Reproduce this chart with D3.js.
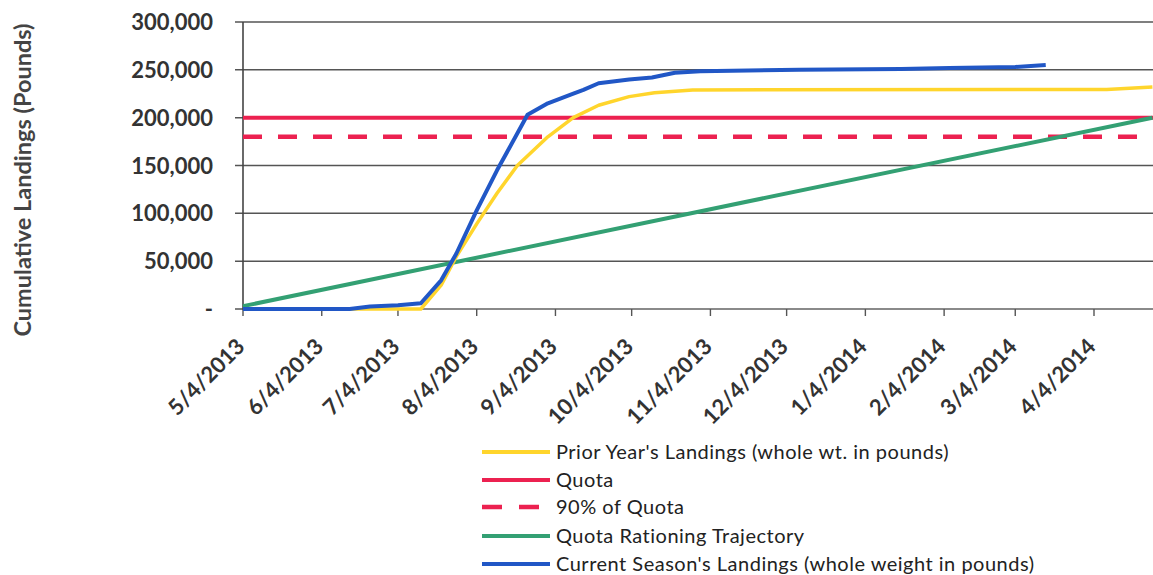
<!DOCTYPE html>
<html>
<head>
<meta charset="utf-8">
<script src="https://cdn.jsdelivr.net/npm/d3@7"></script>
<style>
  html, body { margin: 0; padding: 0; background: #ffffff; }
  svg { display: block; font-family: Lato, "Open Sans", sans-serif; }
</style>
</head>
<body>
<svg id="chart" width="1153" height="575"></svg>
<script>
// ---------- DATA ----------
const tickDates = ["5/4/2013","6/4/2013","7/4/2013","8/4/2013","9/4/2013","10/4/2013",
                   "11/4/2013","12/4/2013","1/4/2014","2/4/2014","3/4/2014","4/4/2014"];
const yTicks = [0, 50000, 100000, 150000, 200000, 250000, 300000];

const currentDates = ["5/4/2013","6/15/2013","6/23/2013","7/4/2013","7/13/2013","7/21/2013","7/27/2013",
  "8/4/2013","8/12/2013","8/17/2013","8/24/2013","9/1/2013","9/10/2013","9/15/2013","9/21/2013",
  "10/3/2013","10/12/2013","10/21/2013","10/31/2013","12/9/2013","1/18/2014","2/6/2014","3/4/2014","3/16/2014"];
const currentValues = [0,0,2500,4000,6000,30000,58000,
  103000,145000,169000,203000,215000,224000,229000,236000,
  240000,242000,247000,248500,250000,251000,252000,253000,255000];

const priorDates = ["5/4/2013","7/13/2013","7/21/2013","7/27/2013","8/4/2013","8/12/2013","8/20/2013",
  "9/1/2013","9/11/2013","9/21/2013","10/3/2013","10/13/2013","10/28/2013","4/9/2014","4/27/2014"];
const priorValues = [0,0,25000,55000,89000,121000,150000,
  180000,200000,213000,222000,226000,229000,229500,232000];

const quota = 200000;
const quota90 = 180000;
const trajectoryDates = ["5/4/2013","4/27/2014"];
const trajectoryValues = [3000, 200000];

const legendLabels = ["Prior Year's Landings (whole wt. in pounds)","Quota","90% of Quota",
  "Quota Rationing Trajectory","Current Season's Landings (whole weight in pounds)"];
const seriesColors = ["#FFD52C","#EC2150","#EC2150","#33A073","#2157C6"];

// ---------- SETUP ----------
(function () {
const parse = d3.timeParse("%m/%d/%Y");
const svg = d3.select("#chart");
const W = 1153;
const pLeft = 243, pTop = 22, pBottom = 309;

const x = d3.scaleTime()
  .domain([parse("5/4/2013"), parse("4/4/2014")])
  .range([243, 1094]);
const y = d3.scaleLinear().domain([0, 300000]).range([pBottom, pTop]);
const xEnd = parse("5/10/2014");

svg.append("defs").append("clipPath").attr("id","plotclip")
  .append("rect").attr("x", pLeft - 5).attr("y", 0).attr("width", W - pLeft + 5).attr("height", pBottom + 5);

// gridlines
const grid = svg.append("g");
grid.selectAll("line.g").data(yTicks.filter(d => d > 0)).enter().append("line")
  .attr("x1", pLeft - 8).attr("x2", W)
  .attr("y1", d => y(d)).attr("y2", d => y(d))
  .attr("stroke", "#555").attr("stroke-width", 1.5);

// x axis line
grid.append("line").attr("x1", pLeft).attr("x2", W).attr("y1", y(0)).attr("y2", y(0))
  .attr("stroke", "#8a8a8a").attr("stroke-width", 2.2);
grid.append("line").attr("x1", pLeft - 8).attr("x2", pLeft).attr("y1", y(0)).attr("y2", y(0))
  .attr("stroke", "#555").attr("stroke-width", 1.5);
// y axis line
grid.append("line").attr("x1", pLeft).attr("x2", pLeft).attr("y1", pTop).attr("y2", pBottom + 1)
  .attr("stroke", "#444").attr("stroke-width", 1.6);

// x ticks
const td = tickDates.map(parse);
grid.selectAll("line.xt").data(td).enter().append("line")
  .attr("x1", d => x(d)).attr("x2", d => x(d))
  .attr("y1", y(0)).attr("y2", y(0) + 7)
  .attr("stroke", "#555").attr("stroke-width", 1.4);

// y labels
svg.append("g").selectAll("text").data(yTicks).enter().append("text")
  .attr("x", 213).attr("y", d => y(d) + 8)
  .attr("text-anchor", "end")
  .attr("font-size", 22).attr("font-weight", "bold").attr("fill", "#333")
  .text(d => d === 0 ? "-" : d3.format(",")(d));

// x labels
svg.append("g").selectAll("text").data(td).enter().append("text")
  .attr("transform", d => `translate(${x(d) + 3},${348}) rotate(-45)`)
  .attr("text-anchor", "end")
  .attr("font-size", 22).attr("font-weight", "bold").attr("fill", "#333")
  .text((d, i) => tickDates[i]);

// y title
svg.append("text")
  .attr("transform", `translate(31,180) rotate(-90)`)
  .attr("text-anchor", "middle")
  .attr("font-size", 23.5).attr("font-weight", "bold").attr("fill", "#444")
  .text("Cumulative Landings (Pounds)");

// series
const plot = svg.append("g").attr("clip-path", "url(#plotclip)");
const line = d3.line().x(d => x(d[0])).y(d => y(d[1]));

plot.append("line").attr("x1", pLeft).attr("x2", x(xEnd) + 20)
  .attr("y1", y(quota)).attr("y2", y(quota))
  .attr("stroke", seriesColors[1]).attr("stroke-width", 4);
plot.append("line").attr("x1", pLeft).attr("x2", x(xEnd) + 20)
  .attr("y1", y(quota90)).attr("y2", y(quota90))
  .attr("stroke", seriesColors[2]).attr("stroke-width", 4.5)
  .attr("stroke-dasharray", "19,16");

plot.append("path")
  .datum(trajectoryDates.map((d, i) => [parse(d), trajectoryValues[i]]))
  .attr("d", line).attr("fill", "none")
  .attr("stroke", seriesColors[3]).attr("stroke-width", 4);

plot.append("path")
  .datum(priorDates.map((d, i) => [parse(d), priorValues[i]]))
  .attr("d", line).attr("fill", "none")
  .attr("stroke", seriesColors[0]).attr("stroke-width", 3.5).attr("stroke-linejoin", "round");

plot.append("path")
  .datum(currentDates.map((d, i) => [parse(d), currentValues[i]]))
  .attr("d", line).attr("fill", "none")
  .attr("stroke", seriesColors[4]).attr("stroke-width", 4).attr("stroke-linejoin", "round");

// legend
const lg = svg.append("g");
const rowY = [452, 480, 507, 536, 564];
legendLabels.forEach((lab, i) => {
  const l = lg.append("line")
    .attr("x1", 482).attr("x2", i === 2 ? 540 : 550)
    .attr("y1", rowY[i]).attr("y2", rowY[i])
    .attr("stroke", seriesColors[i]).attr("stroke-width", i === 2 ? 4.5 : 4);
  if (i === 2) l.attr("stroke-dasharray", "20,17");
  lg.append("text").attr("x", 556).attr("y", rowY[i] + 7)
    .attr("font-size", 20).attr("letter-spacing", 0.5).attr("fill", "#222")
    .text(lab);
});
})();
</script>
</body>
</html>
